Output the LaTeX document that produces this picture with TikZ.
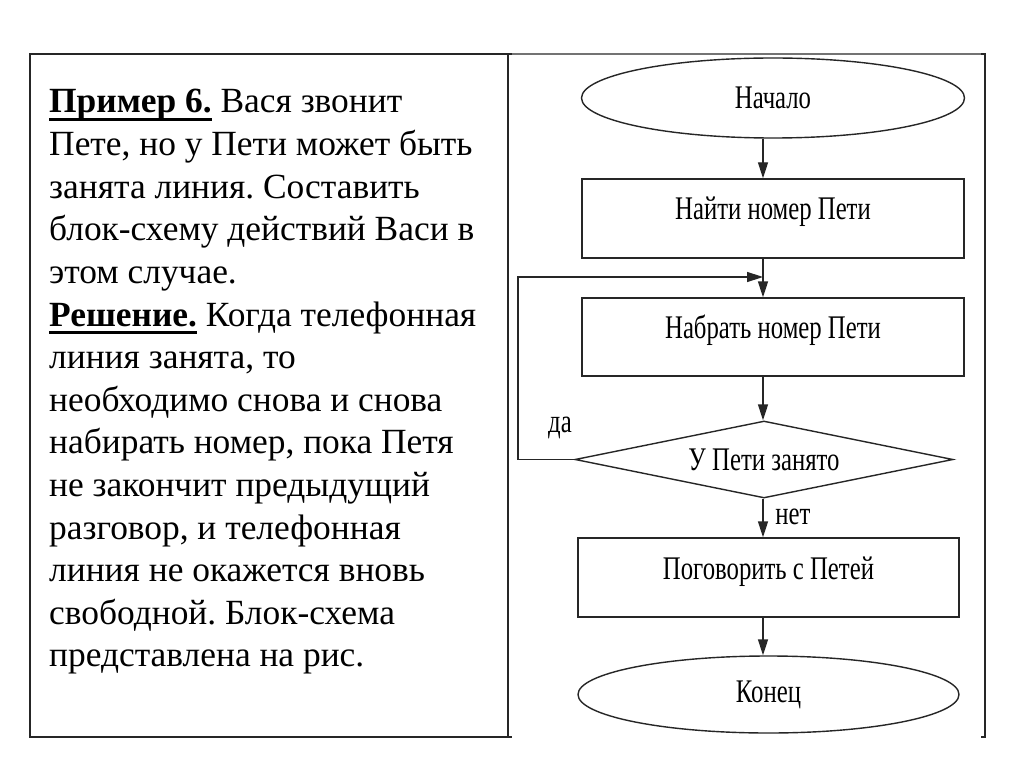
\documentclass[tikz,border=0pt]{standalone}
\usepackage{fontspec}
\setmainfont{Liberation Serif}
\newfontfamily\fcfont[FakeStretch=0.75]{Liberation Serif}
\usetikzlibrary{shapes.geometric,arrows.meta}
\newcommand\myul[1]{\setbox0\hbox{#1}\rlap{\rule[-8pt]{\wd0}{2.6pt}}\box0\relax}
\newcommand\mylift[2]{\raisebox{#1}[0pt][0pt]{#2}}
\frenchspacing
\begin{document}
\begin{tikzpicture}[x=1pt,y=-1pt,
  txt/.style={anchor=base west,inner sep=0,font=\fontsize{35.4}{42}\selectfont},
  fc/.style={draw=black!85,line width=1.4pt,font=\fcfont\fontsize{33}{38}\selectfont,inner sep=0},
  box/.style={fc,rectangle},
  term/.style={fc,ellipse},
  dec/.style={fc,diamond,aspect=4.9},
  arr/.style={draw=black!85,line width=1.4pt,-{Triangle[length=16pt,width=10pt]}},
  lbl/.style={font=\fcfont\fontsize{33}{38}\selectfont,inner sep=0},
  frame/.style={draw=black!85,line width=2pt}]
\useasboundingbox (0,0) rectangle (1024,767);
\fill[white] (0,0) rectangle (1024,767);
% frames
\draw[frame] (30,54) rectangle (508,737);
\draw[frame] (508,54) -- (512,54);
\draw[frame] (508,737) -- (512,737);
\draw[draw=black!55,line width=1.6pt] (512,54) -- (985,54);
\draw[frame] (981,54) -- (985,54) -- (985,737) -- (981,737);
% left text
\node[txt] (t1) at (49,113.0) {\myul{\textbf{Пример 6.}} Вася звонит};
\node[txt] (t2) at (49,155.6) {Пете, но у Пети может быть};
\node[txt] (t3) at (49,198.2) {занята линия. Составить};
\node[txt] (t4) at (49,240.8) {блок-схему действий Васи в};
\node[txt] (t5) at (49,283.4) {этом случае.};
\node[txt] (t6) at (49,326.0) {\myul{\textbf{Решение.}} Когда телефонная};
\node[txt] (t7) at (49,368.6) {линия занята, то};
\node[txt] (t8) at (49,411.2) {необходимо снова и снова};
\node[txt] (t9) at (49,453.8) {набирать номер, пока Петя};
\node[txt] (t10) at (49,496.4) {не закончит предыдущий};
\node[txt] (t11) at (49,539.0) {разговор, и телефонная};
\node[txt] (t12) at (49,581.6) {линия не окажется вновь};
\node[txt] (t13) at (49,624.2) {свободной. Блок-схема};
\node[txt] (t14) at (49,666.8) {представлена на рис.};
% flowchart
\coordinate (ax) at (763,0);
\node[term,minimum width=383pt,minimum height=80pt] (s) at (773,98) {Начало};
\node[box,minimum width=382pt,minimum height=79pt] (r1) at (773,218.5) {\mylift{-1.5pt}{Найти номер Пети}};
\node[box,minimum width=382pt,minimum height=78pt] (r2) at (773,337) {\mylift{-1pt}{Набрать номер Пети}};
\node[dec,minimum width=378pt,minimum height=77pt] (d) at (764,459.5) {У Пети занято};
\node[box,minimum width=381pt,minimum height=79pt] (r3) at (768.5,577.5) {\mylift{-1.5pt}{Поговорить с Петей}};
\node[term,minimum width=381pt,minimum height=77pt] (e) at (768.5,694.5) {Конец};
\draw[arr] (s.south -| ax) -- (r1.north -| ax);
\draw[arr] (r1.south -| ax) -- (r2.north -| ax);
\draw[arr] (r2.south -| ax) -- (d.north -| ax);
\draw[arr] (d.south -| ax) -- (r3.north -| ax);
\draw[arr] (r3.south -| ax) -- (e.north -| ax);
\coordinate (lx) at (518,277);
\draw[arr] (d.west) -| (lx) -- (lx -| ax);
\node[lbl] (yes) at (560,428) {да};
\node[lbl] (no) at (793,517) {нет};
\end{tikzpicture}
\end{document}
